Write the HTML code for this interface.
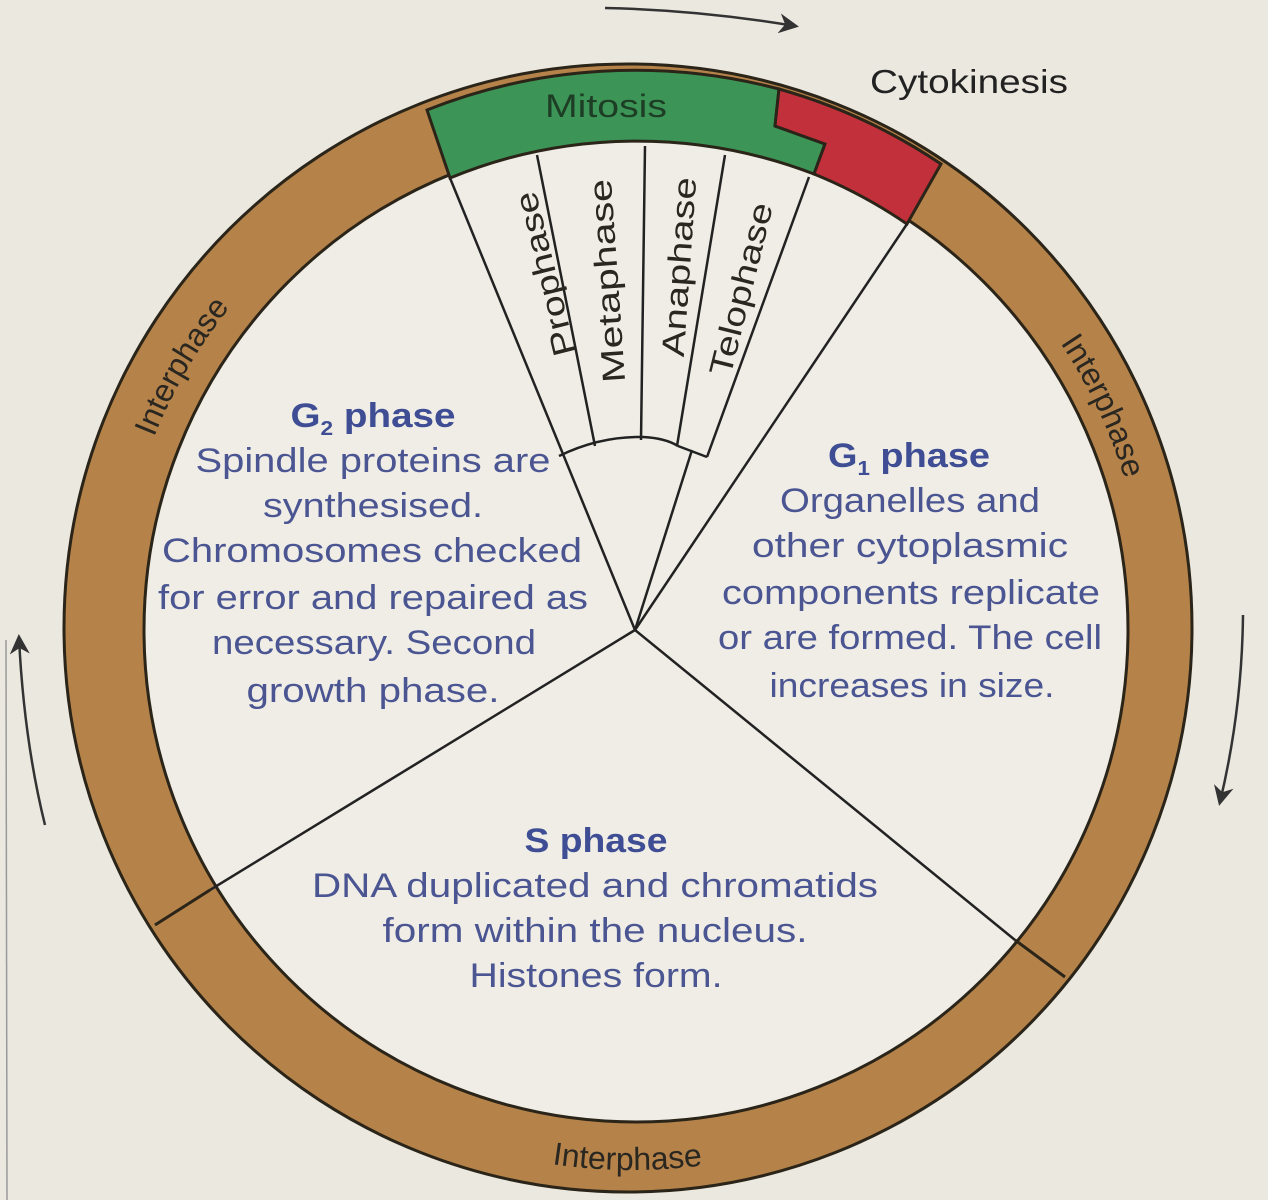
<!DOCTYPE html>
<html><head><meta charset="utf-8"><style>
html,body{margin:0;padding:0;background:#ebe8e0;}
svg{display:block;}
text{font-family:"Liberation Sans",sans-serif;}
.b{fill:#4a5592;font-size:34px;}
.h{fill:#3e4d94;font-size:34px;font-weight:bold;}
.d{fill:#2a2620;font-size:32px;}
</style></head><body>
<svg width="1268" height="1200" viewBox="0 0 1268 1200" xmlns="http://www.w3.org/2000/svg">
<defs>
<marker id="ah" viewBox="0 0 10 10" refX="8" refY="5" markerWidth="20" markerHeight="20" orient="auto-start-reverse" markerUnits="userSpaceOnUse">
<path d="M0,0 L10,5 L0,10 L3,5 Z" fill="#333"/></marker>
<path id="cw" d="M117,629 A515 515 0 1 1 1147,629 A515 515 0 1 1 117,629"/>
<path id="ccw" d="M91,629 A541 541 0 1 0 1173,629"/>
</defs>
<rect width="1268" height="1200" fill="#ebe8e0"/>
<line x1="6" y1="640" x2="7" y2="1200" stroke="#999" stroke-width="1.5"/>
<circle cx="628" cy="628" r="564" fill="#b5834a" stroke="#2b2418" stroke-width="3"/>
<circle cx="636" cy="630" r="492" fill="#efede6" stroke="#2b2418" stroke-width="3"/>
<path d="M427,110 A564 564 0 0 1 779,89 L775,126 L825,144 L814,174 A492 492 0 0 0 450,178 Z" fill="#3c9556" stroke="#2b2418" stroke-width="3"/>
<path d="M779,89 A564 564 0 0 1 941,164 L907,224 A492 492 0 0 0 814,174 L825,144 L775,126 Z" fill="#c2313b" stroke="#2b2418" stroke-width="3"/>
<line x1="155" y1="925" x2="210" y2="890" stroke="#2b2418" stroke-width="3"/>
<line x1="1065" y1="977" x2="1015" y2="940" stroke="#2b2418" stroke-width="3"/>
<g stroke="#222" stroke-width="2.5" fill="none">
<line x1="635" y1="630" x2="210" y2="890"/>
<line x1="635" y1="630" x2="1015" y2="940"/>
<line x1="635" y1="630" x2="907" y2="224"/>
<line x1="635" y1="630" x2="450" y2="178"/>
<line x1="635" y1="630" x2="692" y2="450"/>
<line x1="537" y1="155" x2="595" y2="446"/>
<line x1="645" y1="146" x2="641" y2="440"/>
<line x1="725" y1="155" x2="677" y2="446"/>
<line x1="809" y1="177" x2="707" y2="457"/>
<path d="M559,456 Q600,436 643,437 Q665,438 678,446"/>
<line x1="678" y1="446" x2="707" y2="457"/>
</g>
<g stroke="#333" stroke-width="2.5" fill="none">
<path d="M605,8 Q700,10 795,26" marker-end="url(#ah)"/>
<path d="M1243,615 Q1242,710 1220,802" marker-end="url(#ah)"/>
<path d="M45,825 Q24,740 19,638" marker-end="url(#ah)"/>
</g>
<text class="d" font-size="34"><textPath href="#cw" startOffset="272" text-anchor="middle">Interphase</textPath></text>
<text class="d" font-size="34"><textPath href="#cw" startOffset="1390" text-anchor="middle">Interphase</textPath></text>
<text class="d" font-size="34"><textPath href="#ccw" startOffset="845" text-anchor="middle">Interphase</textPath></text>
<text x="606" y="117" text-anchor="middle" font-size="32" fill="#1d3d25" textLength="122" lengthAdjust="spacingAndGlyphs">Mitosis</text>
<text x="969" y="93" text-anchor="middle" font-size="33" fill="#222" textLength="198" lengthAdjust="spacingAndGlyphs">Cytokinesis</text>
<text class="d" transform="translate(545,274) rotate(-104)" x="0" y="11" text-anchor="middle" textLength="168" lengthAdjust="spacingAndGlyphs">Prophase</text>
<text class="d" transform="translate(607,281) rotate(-94)" x="0" y="11" text-anchor="middle" textLength="204" lengthAdjust="spacingAndGlyphs">Metaphase</text>
<text class="d" transform="translate(679,267) rotate(-86)" x="0" y="11" text-anchor="middle" textLength="180" lengthAdjust="spacingAndGlyphs">Anaphase</text>
<text class="d" transform="translate(741,289) rotate(-76)" x="0" y="11" text-anchor="middle" textLength="177" lengthAdjust="spacingAndGlyphs">Telophase</text>
<text class="h" x="373" y="427" text-anchor="middle" textLength="165" lengthAdjust="spacingAndGlyphs">G<tspan font-size="20" dy="8">2</tspan><tspan dy="-8"> phase</tspan></text>
<g text-anchor="middle">
<text class="b" x="373" y="472" textLength="355" lengthAdjust="spacingAndGlyphs">Spindle proteins are</text>
<text class="b" x="373" y="517" textLength="220" lengthAdjust="spacingAndGlyphs">synthesised.</text>
<text class="b" x="372" y="562" textLength="420" lengthAdjust="spacingAndGlyphs">Chromosomes checked</text>
<text class="b" x="373" y="609" textLength="430" lengthAdjust="spacingAndGlyphs">for error and repaired as</text>
<text class="b" x="374" y="654" textLength="324" lengthAdjust="spacingAndGlyphs">necessary. Second</text>
<text class="b" x="373" y="702" textLength="253" lengthAdjust="spacingAndGlyphs">growth phase.</text>
</g>
<text class="h" x="909" y="467" text-anchor="middle" textLength="162" lengthAdjust="spacingAndGlyphs">G<tspan font-size="20" dy="8">1</tspan><tspan dy="-8"> phase</tspan></text>
<g text-anchor="middle">
<text class="b" x="910" y="512" textLength="260" lengthAdjust="spacingAndGlyphs">Organelles and</text>
<text class="b" x="910" y="557" textLength="316" lengthAdjust="spacingAndGlyphs">other cytoplasmic</text>
<text class="b" x="911" y="604" textLength="378" lengthAdjust="spacingAndGlyphs">components replicate</text>
<text class="b" x="910" y="649" textLength="384" lengthAdjust="spacingAndGlyphs">or are formed. The cell</text>
<text class="b" x="912" y="697" textLength="285" lengthAdjust="spacingAndGlyphs">increases in size.</text>
</g>
<g text-anchor="middle">
<text class="h" x="596" y="852" textLength="143" lengthAdjust="spacingAndGlyphs">S phase</text>
<text class="b" x="595" y="897" textLength="566" lengthAdjust="spacingAndGlyphs">DNA duplicated and chromatids</text>
<text class="b" x="595" y="942" textLength="425" lengthAdjust="spacingAndGlyphs">form within the nucleus.</text>
<text class="b" x="596" y="987" textLength="253" lengthAdjust="spacingAndGlyphs">Histones form.</text>
</g>
</svg>
</body></html>
